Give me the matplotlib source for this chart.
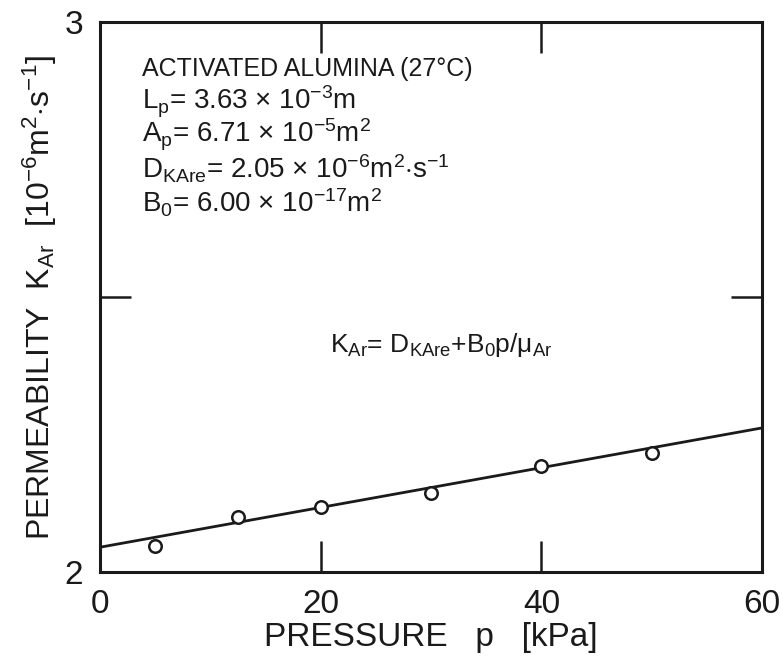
import matplotlib
matplotlib.use('Agg')
import matplotlib.pyplot as plt

plt.rcParams['font.family'] = ['Liberation Sans', 'DejaVu Sans']
plt.rcParams['mathtext.fontset'] = 'custom'
plt.rcParams['mathtext.rm'] = 'Liberation Sans'
plt.rcParams['mathtext.it'] = 'Liberation Sans'
plt.rcParams['mathtext.bf'] = 'Liberation Sans'

# measured permeability of argon through activated alumina
pressure_kpa = [5, 12.5, 20, 30, 40, 50]
permeability = [2.048, 2.100, 2.118, 2.144, 2.193, 2.216]

# fitted line K = D + B0 p / mu
fit_p = [0, 60]
fit_k = [2.045, 2.262]

x_ticks = [0, 20, 40, 60]
y_ticks = [2, 2.5, 3]
y_tick_labels = ['2', '', '3']

title_line = 'ACTIVATED ALUMINA (27\u00b0C)'
param_lines = [
    'L$_\\mathrm{p}$= 3.63 \u00d7 10$^{-3}$m',
    'A$_\\mathrm{p}$= 6.71 \u00d7 10$^{-5}$m$^2$',
    'D$_\\mathrm{KAre}$= 2.05 \u00d7 10$^{-6}$m$^2$$\\cdot$s$^{-1}$',
    'B$_0$= 6.00 \u00d7 10$^{-17}$m$^2$',
]
model_text = r'K$_\mathrm{Ar}$= D$_\mathrm{KAre}$+B$_0$p/$\mu_\mathrm{Ar}$'

ink = '#1a1a1a'

fig = plt.figure(figsize=(7.83, 6.64), dpi=100)
ax = fig.add_axes([0.1277, 0.1386, 0.8455, 0.828])

ax.plot(fit_p, fit_k, color=ink, lw=2.0)
ax.plot(pressure_kpa, permeability, 'o', ms=9, mfc='white', mec=ink, mew=1.8)

ax.set_xlim(0, 60)
ax.set_ylim(2, 3)
ax.set_xticks(x_ticks)
ax.set_yticks(y_ticks)
ax.set_yticklabels(y_tick_labels)
ax.tick_params(direction='in', length=22, width=1.8, top=True, right=True,
               labelsize=24, colors=ink, pad=12)
for sp in ax.spines.values():
    sp.set_linewidth(2.2)
    sp.set_color(ink)

ax.set_xlabel('PRESSURE   p   [kPa]', fontsize=24, color=ink, labelpad=2)
ax.set_ylabel(r'PERMEABILITY  K$_\mathrm{Ar}$  [10$^{-6}$m$^2$$\cdot$s$^{-1}$]',
              fontsize=23, color=ink, labelpad=4)

ax.text(0.063, 0.915, title_line, transform=ax.transAxes,
        fontsize=18, color=ink, va='center', ha='left')
for i, line in enumerate(param_lines):
    ax.text(0.063, 0.855 - i * 0.061, line, transform=ax.transAxes,
            fontsize=20, color=ink, va='center', ha='left')

ax.text(0.347, 0.413, model_text, transform=ax.transAxes,
        fontsize=19, color=ink, va='center', ha='left')

fig.savefig('out.png', dpi=100)
